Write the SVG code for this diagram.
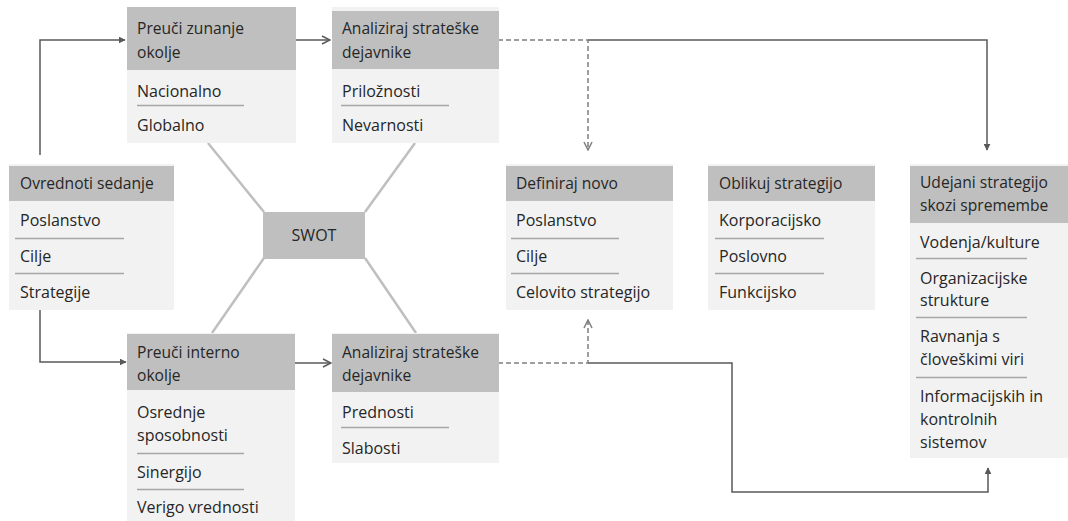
<svg xmlns="http://www.w3.org/2000/svg" width="1068" height="521" viewBox="0 0 1068 521">
<style>
.body{fill:#f2f2f2}
.head{fill:#bfbfbf}
text{font-family:"Open Sans","Noto Sans","Liberation Sans",sans-serif;font-size:16px;fill:#262626}
text.h{font-size:15.6px}
.sep{stroke:#a6a6a6;stroke-width:1.5}
.conn{fill:none;stroke:#595959;stroke-width:1.5}
.dash{fill:none;stroke:#7f7f7f;stroke-width:1.5;stroke-dasharray:5,3}
.swot{stroke:#bfbfbf;stroke-width:2.5}
</style>
<defs>
<marker id="af" viewBox="0 0 10 10" refX="9" refY="5" markerWidth="7" markerHeight="7" markerUnits="userSpaceOnUse" orient="auto"><path d="M0,0 L10,5 L0,10 z" fill="#595959"/></marker>
<marker id="ao" viewBox="0 0 10 10" refX="9" refY="5" markerWidth="10" markerHeight="10" markerUnits="userSpaceOnUse" orient="auto"><path d="M1,1 L9,5 L1,9" fill="none" stroke="#595959" stroke-width="1.5"/></marker>
<marker id="ad" viewBox="0 0 10 10" refX="9" refY="5" markerWidth="10" markerHeight="10" markerUnits="userSpaceOnUse" orient="auto"><path d="M1,1 L9,5 L1,9" fill="none" stroke="#7f7f7f" stroke-width="1.5"/></marker>
</defs>

<g id="swot-lines">
<line class="swot" x1="264" y1="212" x2="208" y2="143"/>
<line class="swot" x1="365" y1="212" x2="415" y2="143"/>
<line class="swot" x1="264" y1="258" x2="212" y2="333"/>
<line class="swot" x1="365" y1="258" x2="416" y2="333"/>
</g>

<g id="connectors">
<polyline class="conn" points="40,155 40,40 125,40" marker-end="url(#af)"/>
<line class="conn" x1="296" y1="40" x2="330" y2="40" marker-end="url(#ao)"/>
<polyline class="conn" points="588,40 987,40 987,150" marker-end="url(#af)"/>
<polyline class="dash" points="498,40 588,40 588,150" marker-end="url(#ad)"/>
<polyline class="conn" points="40,310 40,362 126,362" marker-end="url(#af)"/>
<line class="conn" x1="295" y1="363" x2="331" y2="363" marker-end="url(#ao)"/>
<polyline class="conn" points="588,363 732,363 732,492 988,492 988,468" marker-end="url(#af)"/>
<polyline class="dash" points="498,363 588,363 588,320" marker-end="url(#ad)"/>
</g>

<g id="n-zunanje">
<rect class="body" x="127" y="7" width="169" height="136"/>
<rect class="head" x="127" y="7" width="169" height="63"/>
<text class="h" x="137" y="34">Preuči zunanje</text>
<text class="h" x="137" y="58">okolje</text>
<text x="137" y="97">Nacionalno</text>
<line class="sep" x1="137" y1="105.5" x2="244" y2="105.5"/>
<text x="137" y="131">Globalno</text>
</g>

<g id="n-analiz-top">
<rect class="body" x="332" y="7" width="167" height="136"/>
<rect class="head" x="332" y="11" width="167" height="58"/>
<text class="h" x="342" y="34">Analiziraj strateške</text>
<text class="h" x="342" y="58">dejavnike</text>
<text x="342" y="97">Priložnosti</text>
<line class="sep" x1="341" y1="105.5" x2="449" y2="105.5"/>
<text x="342" y="131">Nevarnosti</text>
</g>

<g id="n-ovrednoti">
<rect class="body" x="9" y="164" width="165" height="146"/>
<rect class="head" x="9" y="166" width="165" height="35"/>
<text class="h" x="20" y="189">Ovrednoti sedanje</text>
<text x="20" y="226">Poslanstvo</text>
<line class="sep" x1="15" y1="238.5" x2="124" y2="238.5"/>
<text x="20" y="262">Cilje</text>
<line class="sep" x1="15" y1="273.5" x2="124" y2="273.5"/>
<text x="20" y="298">Strategije</text>
</g>

<g id="n-swot">
<rect class="head" x="263" y="212" width="102" height="47"/>
<text x="314" y="241" text-anchor="middle">SWOT</text>
</g>

<g id="n-definiraj">
<rect class="body" x="506" y="164" width="167" height="146"/>
<rect class="head" x="506" y="166" width="167" height="35"/>
<text class="h" x="516" y="189">Definiraj novo</text>
<text x="516" y="226">Poslanstvo</text>
<line class="sep" x1="511" y1="238.5" x2="619" y2="238.5"/>
<text x="516" y="262">Cilje</text>
<line class="sep" x1="511" y1="273.5" x2="619" y2="273.5"/>
<text x="516" y="298">Celovito strategijo</text>
</g>

<g id="n-oblikuj">
<rect class="body" x="708" y="164" width="167" height="146"/>
<rect class="head" x="708" y="166" width="167" height="35"/>
<text class="h" x="719" y="189">Oblikuj strategijo</text>
<text x="719" y="226">Korporacijsko</text>
<line class="sep" x1="715" y1="238.5" x2="824" y2="238.5"/>
<text x="719" y="262">Poslovno</text>
<line class="sep" x1="715" y1="273.5" x2="824" y2="273.5"/>
<text x="719" y="298">Funkcijsko</text>
</g>

<g id="n-udejani">
<rect class="body" x="910" y="164" width="158" height="294"/>
<rect class="head" x="910" y="166" width="158" height="57"/>
<text class="h" x="920" y="188">Udejani strategijo</text>
<text class="h" x="920" y="211">skozi spremembe</text>
<text x="920" y="248">Vodenja/kulture</text>
<line class="sep" x1="916" y1="258.5" x2="1027" y2="258.5"/>
<text x="920" y="284">Organizacijske</text>
<text x="920" y="306">strukture</text>
<line class="sep" x1="916" y1="317.5" x2="1027" y2="317.5"/>
<text x="920" y="342">Ravnanja s</text>
<text x="920" y="365">človeškimi viri</text>
<line class="sep" x1="916" y1="377.5" x2="1027" y2="377.5"/>
<text x="920" y="402">Informacijskih in</text>
<text x="920" y="425">kontrolnih</text>
<text x="920" y="448">sistemov</text>
</g>

<g id="n-interno">
<rect class="body" x="127" y="333" width="168" height="188"/>
<rect class="head" x="127" y="334" width="168" height="56"/>
<text class="h" x="137" y="358">Preuči interno</text>
<text class="h" x="137" y="381">okolje</text>
<text x="137" y="418">Osrednje</text>
<text x="137" y="441">sposobnosti</text>
<line class="sep" x1="137" y1="453.5" x2="244" y2="453.5"/>
<text x="137" y="478">Sinergijo</text>
<line class="sep" x1="137" y1="489.5" x2="244" y2="489.5"/>
<text x="137" y="513">Verigo vrednosti</text>
</g>

<g id="n-analiz-bot">
<rect class="body" x="332" y="333" width="167" height="130"/>
<rect class="head" x="332" y="334" width="167" height="58"/>
<text class="h" x="342" y="358">Analiziraj strateške</text>
<text class="h" x="342" y="381">dejavnike</text>
<text x="342" y="418">Prednosti</text>
<line class="sep" x1="341" y1="427.5" x2="449" y2="427.5"/>
<text x="342" y="454">Slabosti</text>
</g>
</svg>
